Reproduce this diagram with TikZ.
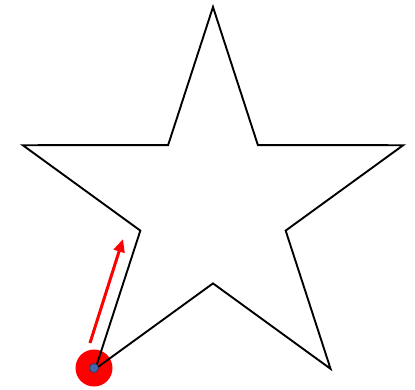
\documentclass[tikz,border=0pt]{standalone}
\usepackage{tikz}
\usetikzlibrary{arrows.meta,calc}

\definecolor{pinblue}{RGB}{68,102,170}

\begin{document}
\begin{tikzpicture}[
  x=1pt, y=-1pt,
  starline/.style={draw=black, line width=1.9pt, line join=miter},
  halo/.style={circle, fill=red, minimum size=37pt, inner sep=0pt},
  dot/.style={circle, fill=pinblue, draw=pinblue!60!black, line width=0.7pt,
              minimum size=9pt, inner sep=0pt},
  arr/.style={-{Triangle[length=13pt, width=11pt]}, red, line width=3pt}
]
  \useasboundingbox (0,0) rectangle (415,389);

  % marker under the lower left tip
  \node[halo] (mark) at (94,368) {};

  % five-pointed star around its centre
  \coordinate (c) at (213,207);
  \draw[starline] ($(c)+(90:-200)$)
    \foreach \k in {0,...,4} {
      -- ($(c)+({90-\k*72-36}:-76.4)$)
      -- ($(c)+({90-\k*72-72}:-200)$)
    } -- cycle;

  \node[dot] (pin) at (mark.center) {};

  \coordinate (tail) at (90,343);
  \coordinate (head) at (123,239);
  \draw[arr] (tail) -- (head);
\end{tikzpicture}
\end{document}
